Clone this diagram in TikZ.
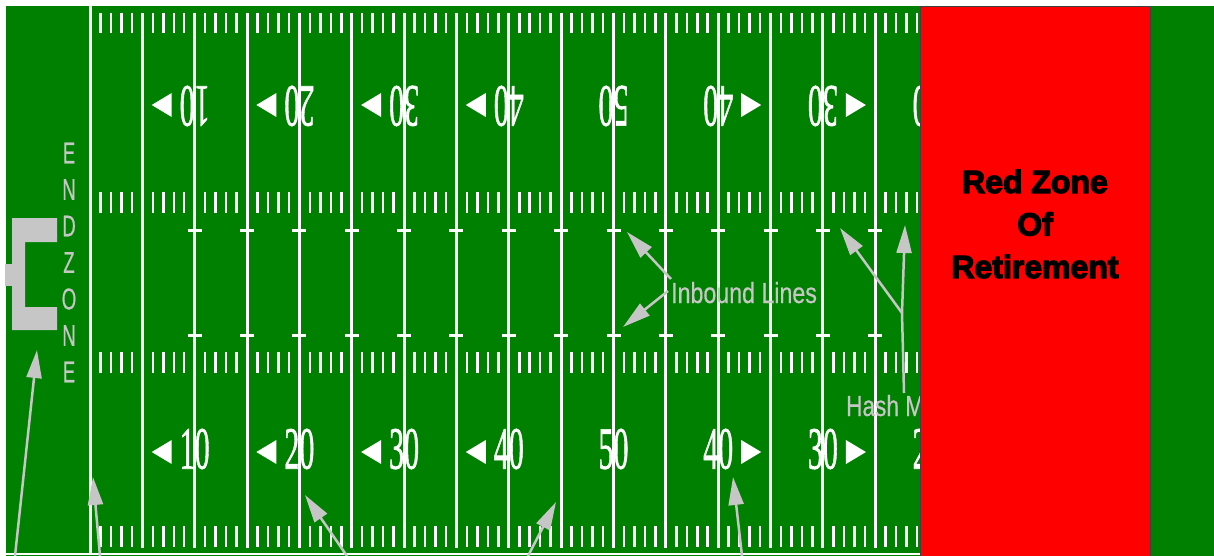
\documentclass[tikz,border=0pt]{standalone}
\usepackage{fontspec}
\setmainfont{Liberation Serif}
\newfontfamily\numfont{Liberation Serif}[FakeBold=1.2]
\newfontfamily\annofont{Liberation Sans}[FakeBold=0.6]
\newfontfamily\heavyfont{Liberation Sans Bold}[FakeBold=4]
\usetikzlibrary{arrows.meta}
\definecolor{field}{RGB}{0,128,0}
\definecolor{anno}{RGB}{198,198,198}
\definecolor{redzone}{RGB}{255,0,0}
\begin{document}
\begin{tikzpicture}[x=1pt,y=-1pt,
  fieldline/.style={white, line width=3pt},
  tick/.style={white, line width=2.5pt},
  digits/.style={white, inner sep=0pt, font=\numfont\fontsize{60}{60}\selectfont, xscale=0.5},
  annoline/.style={anno, line width=2.5pt},
  annoarrow/.style={anno, line width=2.5pt, -{Triangle[length=28pt,width=15pt]}},
  annotext/.style={anno, inner sep=0pt, font=\annofont\fontsize{29}{29}\selectfont},
  ezletter/.style={anno, inner sep=0pt, font=\annofont\fontsize{30}{30}\selectfont, xscale=0.62},
  redtext/.style={black, inner sep=0pt, align=center, font=\heavyfont\fontsize{32}{42.5}\selectfont},
]
\useasboundingbox (0,0) rectangle (1214,556);
\fill[white] (0,0) rectangle (1214,556);
\fill[field] (6,6) rectangle (1214,556);

% end zone letters
\foreach \l [count=\i from 0] in {E,N,D,Z,O,N,E}
  \node[ezletter] (ez\i) at (69,{153+36.5*\i}) {\l};

% goal post
\fill[anno] (12,218) -- (57,218) -- (57,242) -- (25,242) -- (25,307) -- (57,307) -- (57,330) -- (12,330) -- cycle;
\fill[anno] (5,264) rectangle (12,286);

% goal line and yard lines
\draw[fieldline] (90,6) -- (90,553);
\foreach \k in {1,...,16}
  \draw[fieldline] ({90+52.35*\k},13) -- ({90+52.35*\k},548);
\draw[white, line width=2pt] (6,553.5) -- (920,553.5);

% one-yard ticks
\foreach \j in {1,...,79} {
  \pgfmathtruncatemacro\r{mod(\j,5)}
  \ifnum\r>0
    \pgfmathsetmacro\tx{90+10.47*\j}
    \draw[tick] (\tx,13) -- (\tx,33);
    \draw[tick] (\tx,192) -- (\tx,213);
    \draw[tick] (\tx,352) -- (\tx,373);
    \draw[tick] (\tx,526) -- (\tx,547);
  \fi
}

% inbound marks
\foreach \k in {2,...,16} {
  \pgfmathsetmacro\cx{90+52.35*\k}
  \draw[tick, line width=3pt] ({\cx-7},230) -- ({\cx+7},230);
  \draw[tick, line width=3pt] ({\cx-7},335) -- ({\cx+7},335);
}

% yard numbers and direction triangles
\foreach \k/\t/\s in {2/10/-1,4/20/-1,6/30/-1,8/40/-1,10/50/0,12/40/1,14/30/1,16/20/1} {
  \pgfmathsetmacro\cx{90+52.35*\k}
  \node[digits] (nb\k) at (\cx,449) {\t};
  \node[digits, rotate=180] (nt\k) at (\cx,106) {\t};
  \ifnum\s=0 \else
    \fill[white] ({\cx+\s*43},452) -- ({\cx+\s*23},440) -- ({\cx+\s*23},464) -- cycle;
    \fill[white] ({\cx+\s*43},105) -- ({\cx+\s*23},93) -- ({\cx+\s*23},117) -- cycle;
  \fi
}

% bottom annotation arrows
\coordinate (a1s) at (15,556);  \coordinate (a1e) at (37,350);
\coordinate (a2s) at (100,556); \coordinate (a2e) at (93,477);
\coordinate (a3s) at (347,556); \coordinate (a3e) at (305,495);
\coordinate (a4s) at (528,556); \coordinate (a4e) at (556,502);
\coordinate (a5s) at (742,556); \coordinate (a5e) at (733,477);
\draw[annoarrow] (a1s) -- (a1e);
\draw[annoarrow] (a2s) -- (a2e);
\draw[annoarrow] (a3s) -- (a3e);
\draw[annoarrow] (a4s) -- (a4e);
\draw[annoarrow] (a5s) -- (a5e);

% inbound lines label
\node[annotext, xscale=0.8, anchor=base west] (inb) at (671,303) {Inbound Lines};
\coordinate (i0) at (671,279); \coordinate (i1) at (627,232);
\coordinate (i2) at (668,291); \coordinate (i3) at (623,327);
\draw[annoarrow] (i0) -- (i1);
\draw[annoarrow] (i2) -- (i3);

% hash marks label
\node[annotext, xscale=0.78, anchor=base west] (hash) at (846,416) {Hash Marks};
\coordinate (h0) at (904,393); \coordinate (h1) at (902,313);
\coordinate (h2) at (905,225); \coordinate (h3) at (840,228);
\draw[annoline] (h0) -- (h1);
\draw[annoarrow] (h1) -- (h2);
\draw[annoarrow] (h1) -- (h3);

% red zone
\filldraw[fill=redzone, draw=black!75, line width=1pt] (920,7) rectangle (1150,557);
\node[redtext] (rz) at (1035,224) {Red Zone\\Of\\Retirement};
\end{tikzpicture}
\end{document}
